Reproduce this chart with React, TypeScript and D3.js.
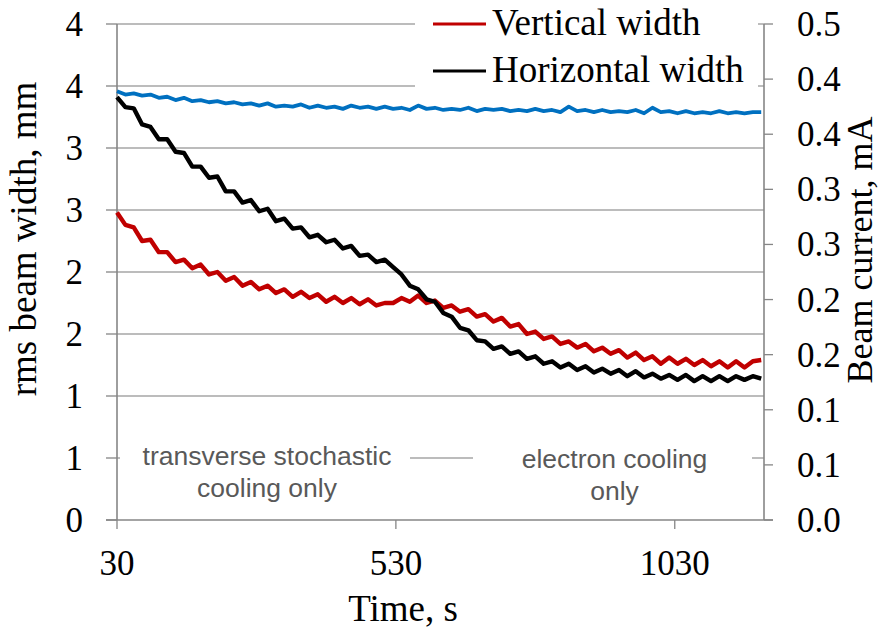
import React, { useEffect, useRef } from "react";
import * as d3 from "d3";

const TIME_START = 30;
const TIME_STEP = 15;
const X_DOMAIN = [30, 1190];
const X_TICKS = [30, 530, 1030];
const LEFT_TICKS = [0, 0.5, 1, 1.5, 2, 2.5, 3, 3.5, 4];
const RIGHT_TICKS = [0, 0.05, 0.1, 0.15, 0.2, 0.25, 0.3, 0.35, 0.4, 0.45];

const horizontalWidth = [
  3.41, 3.33, 3.32, 3.19, 3.17, 3.07, 3.07, 2.97, 2.96, 2.85,
  2.85, 2.76, 2.77, 2.65, 2.65, 2.56, 2.58, 2.49, 2.51, 2.41,
  2.43, 2.35, 2.36, 2.28, 2.30, 2.24, 2.26, 2.19, 2.21, 2.13,
  2.14, 2.08, 2.10, 2.04, 1.98, 1.89, 1.86, 1.78, 1.76, 1.67,
  1.64, 1.55, 1.53, 1.45, 1.44, 1.38, 1.40, 1.34, 1.36, 1.30,
  1.32, 1.26, 1.28, 1.23, 1.26, 1.21, 1.24, 1.19, 1.22, 1.18,
  1.21, 1.16, 1.20, 1.15, 1.18, 1.14, 1.17, 1.13, 1.17, 1.12,
  1.16, 1.12, 1.16, 1.12, 1.16, 1.13, 1.16, 1.14,
];

const verticalWidth = [
  2.48, 2.38, 2.36, 2.25, 2.26, 2.16, 2.16, 2.08, 2.10, 2.03,
  2.06, 1.98, 2.00, 1.93, 1.96, 1.89, 1.92, 1.86, 1.89, 1.83,
  1.86, 1.80, 1.84, 1.79, 1.82, 1.76, 1.80, 1.75, 1.79, 1.74,
  1.78, 1.73, 1.75, 1.75, 1.79, 1.76, 1.81, 1.75, 1.77, 1.71,
  1.73, 1.68, 1.70, 1.64, 1.66, 1.60, 1.63, 1.56, 1.58, 1.50,
  1.52, 1.46, 1.48, 1.42, 1.44, 1.39, 1.42, 1.36, 1.39, 1.34,
  1.37, 1.31, 1.35, 1.29, 1.32, 1.26, 1.31, 1.26, 1.30, 1.25,
  1.29, 1.24, 1.28, 1.23, 1.28, 1.23, 1.28, 1.29,
];

const beamCurrent = [
  0.389, 0.386, 0.387, 0.385, 0.386, 0.383, 0.384, 0.381, 0.383, 0.380,
  0.381, 0.379, 0.380, 0.378, 0.379, 0.377, 0.378, 0.376, 0.378, 0.375,
  0.376, 0.375, 0.377, 0.374, 0.376, 0.374, 0.375, 0.373, 0.376, 0.374,
  0.375, 0.373, 0.375, 0.373, 0.374, 0.372, 0.376, 0.373, 0.374, 0.372,
  0.373, 0.372, 0.374, 0.371, 0.373, 0.372, 0.373, 0.371, 0.372, 0.371,
  0.373, 0.371, 0.372, 0.370, 0.375, 0.371, 0.372, 0.370, 0.372, 0.370,
  0.371, 0.370, 0.372, 0.369, 0.374, 0.370, 0.371, 0.369, 0.371, 0.369,
  0.370, 0.369, 0.371, 0.369, 0.370, 0.369, 0.370, 0.370,
];

const SERIES_NAMES = ["Vertical width", "Horizontal width"];
const ANNOTATIONS = [
  ["transverse stochastic", "cooling only"],
  ["electron cooling", "only"],
];

export default function App() {
  const ref = useRef<SVGSVGElement>(null);

  useEffect(() => {
    const svg = d3.select(ref.current);
    svg.selectAll("*").remove();

    const left = 117, right = 764, top = 24, bottom = 520;
    const x = d3.scaleLinear().domain(X_DOMAIN).range([left, right]);
    const yL = d3.scaleLinear().domain([0, 4]).range([bottom, top]);
    const yR = d3.scaleLinear().domain([0, 0.45]).range([bottom, top]);
    const t = (i: number) => TIME_START + TIME_STEP * i;

    const serif = "'Liberation Serif', 'Times New Roman', serif";
    const sans = "'Liberation Sans', Arial, sans-serif";
    const gridColor = "#a6a6a6";
    const axisColor = "#868686";

    // gridlines
    svg.append("g").selectAll("line").data(LEFT_TICKS.slice(1)).join("line")
      .attr("x1", left).attr("x2", right)
      .attr("y1", (d) => yL(d)).attr("y2", (d) => yL(d))
      .attr("stroke", gridColor).attr("stroke-width", 1.3);

    // left ticks
    svg.append("g").selectAll("line").data(LEFT_TICKS).join("line")
      .attr("x1", left - 11).attr("x2", left)
      .attr("y1", (d) => yL(d)).attr("y2", (d) => yL(d))
      .attr("stroke", axisColor).attr("stroke-width", 1.3);
    // right ticks
    svg.append("g").selectAll("line").data(RIGHT_TICKS).join("line")
      .attr("x1", right).attr("x2", right + 9)
      .attr("y1", (d) => yR(d)).attr("y2", (d) => yR(d))
      .attr("stroke", axisColor).attr("stroke-width", 1.3);
    // bottom ticks
    svg.append("g").selectAll("line").data(X_TICKS).join("line")
      .attr("x1", (d) => x(d)).attr("x2", (d) => x(d))
      .attr("y1", bottom).attr("y2", bottom + 9)
      .attr("stroke", axisColor).attr("stroke-width", 1.3);

    // axis lines
    svg.append("line").attr("x1", left).attr("x2", left).attr("y1", top).attr("y2", bottom)
      .attr("stroke", axisColor).attr("stroke-width", 1.6);
    svg.append("line").attr("x1", right).attr("x2", right).attr("y1", top).attr("y2", bottom)
      .attr("stroke", axisColor).attr("stroke-width", 1.6);
    svg.append("line").attr("x1", left - 11).attr("x2", right + 9).attr("y1", bottom).attr("y2", bottom)
      .attr("stroke", axisColor).attr("stroke-width", 1.6);

    // annotation boxes
    const boxes = [[120, 410], [473, 752]];
    const baselines = [[465, 497], [468, 500]];
    ANNOTATIONS.forEach((lines, k) => {
      const [x0, x1] = boxes[k];
      svg.append("rect").attr("x", x0).attr("y", 436).attr("width", x1 - x0).attr("height", 72)
        .attr("fill", "#fff");
      lines.forEach((s, j) => {
        svg.append("text").attr("x", (x0 + x1) / 2 + 2).attr("y", baselines[k][j])
          .attr("text-anchor", "middle").attr("font-family", sans).attr("font-size", 26.5)
          .attr("fill", "#595959").text(s);
      });
    });

    // lines
    const lineL = d3.line<number>().x((_, i) => x(t(i))).y((d) => yL(d));
    const lineR = d3.line<number>().x((_, i) => x(t(i))).y((d) => yR(d));
    svg.append("path").datum(beamCurrent).attr("d", lineR).attr("fill", "none")
      .attr("stroke", "#0070c0").attr("stroke-width", 3.8).attr("stroke-linejoin", "round");
    svg.append("path").datum(verticalWidth).attr("d", lineL).attr("fill", "none")
      .attr("stroke", "#c00000").attr("stroke-width", 4.4).attr("stroke-linejoin", "round");
    svg.append("path").datum(horizontalWidth).attr("d", lineL).attr("fill", "none")
      .attr("stroke", "#000000").attr("stroke-width", 4.4).attr("stroke-linejoin", "round");

    // tick labels
    svg.append("g").selectAll("text").data(LEFT_TICKS).join("text")
      .attr("x", 83).attr("y", (d) => yL(d) + 12).attr("text-anchor", "end")
      .attr("font-family", serif).attr("font-size", 35).attr("fill", "#000")
      .text((d) => d3.format(".0f")(Math.round(d + 1e-9)));
    svg.append("g").selectAll("text").data(RIGHT_TICKS).join("text")
      .attr("x", 797).attr("y", (d) => yR(d) + 12).attr("text-anchor", "start")
      .attr("font-family", serif).attr("font-size", 35).attr("fill", "#000")
      .text((d) => (Math.round(d * 10 + 1e-9) / 10).toFixed(1));
    svg.append("g").selectAll("text").data(X_TICKS).join("text")
      .attr("x", (d) => x(d)).attr("y", 575).attr("text-anchor", "middle")
      .attr("font-family", serif).attr("font-size", 35).attr("fill", "#000")
      .text((d) => String(d));

    // axis titles
    svg.append("text").attr("x", 403).attr("y", 621).attr("text-anchor", "middle")
      .attr("font-family", serif).attr("font-size", 37).text("Time, s");
    svg.append("text").attr("transform", "translate(36,239) rotate(-90)").attr("text-anchor", "middle")
      .attr("font-family", serif).attr("font-size", 37).text("rms beam width, mm");
    svg.append("text").attr("transform", "translate(872,250) rotate(-90)").attr("text-anchor", "middle")
      .attr("font-family", serif).attr("font-size", 36).text("Beam current, mA");

    // legend
    svg.append("rect").attr("x", 415).attr("y", 0).attr("width", 343).attr("height", 90).attr("fill", "#fff");
    const legendColors = ["#c00000", "#000000"];
    const legendBase = [35, 82];
    SERIES_NAMES.forEach((name, k) => {
      svg.append("line").attr("x1", 433).attr("x2", 486)
        .attr("y1", legendBase[k] - 11).attr("y2", legendBase[k] - 11)
        .attr("stroke", legendColors[k]).attr("stroke-width", 3);
      svg.append("text").attr("x", 492).attr("y", legendBase[k])
        .attr("font-family", serif).attr("font-size", 37).text(name);
    });
  }, []);

  return (
    <svg ref={ref} width={881} height={629}
      style={{ position: "absolute", left: 0, top: 0, background: "#fff" }} />
  );
}
